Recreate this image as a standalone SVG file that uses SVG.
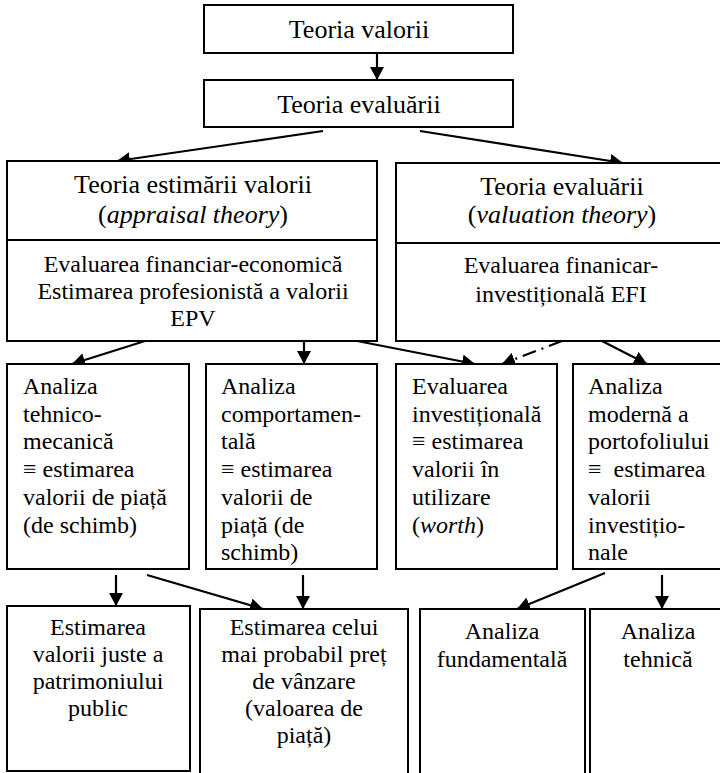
<svg xmlns="http://www.w3.org/2000/svg" width="720" height="773" viewBox="0 0 720 773">
  <defs>
    <marker id="arrow" markerUnits="userSpaceOnUse" markerWidth="14" markerHeight="14" refX="13" refY="7" orient="auto">
      <path d="M0,0 L13,7 L0,14 z" fill="#000"/>
    </marker>
  </defs>
  <style>
    .box { fill: #fff; stroke: #000; stroke-width: 2; }
    .div { stroke: #000; stroke-width: 2; }
    text { font-family: 'Liberation Serif', 'Times New Roman', serif; font-size: 24px; fill: #000; }
    .big { font-size: 26px; }
    .c { text-anchor: middle; }
    .edge { stroke: #000; stroke-width: 2.2; fill: none; marker-end: url(#arrow); }
    .dash { stroke-dasharray: 14 6 2 6; }
  </style>
  <rect width="720" height="773" fill="#fff"/>

  <!-- connectors -->
  <g id="connectors">
    <line class="edge" x1="377" y1="53" x2="377" y2="80"/>
    <line class="edge" x1="323" y1="131" x2="117" y2="161"/>
    <line class="edge" x1="420" y1="131" x2="623" y2="163"/>
    <line class="edge" x1="145" y1="341" x2="72" y2="364"/>
    <line class="edge" x1="304" y1="341" x2="304" y2="364"/>
    <line class="edge" x1="357" y1="341" x2="475" y2="364"/>
    <line class="edge dash" x1="562" y1="341" x2="502" y2="364"/>
    <line class="edge" x1="602" y1="341" x2="647" y2="364"/>
    <line class="edge" x1="116" y1="575" x2="116" y2="606"/>
    <line class="edge" x1="147" y1="575" x2="263" y2="609"/>
    <line class="edge" x1="303" y1="575" x2="303" y2="609"/>
    <line class="edge" x1="605" y1="573" x2="517" y2="609"/>
    <line class="edge" x1="662" y1="575" x2="662" y2="609"/>
  </g>

  <g id="teoria-valorii">
    <rect class="box" x="204" y="5" width="309" height="48"/>
    <text class="big c" x="359" y="38">Teoria valorii</text>
  </g>

  <g id="teoria-evaluarii">
    <rect class="box" x="204" y="80" width="309" height="47"/>
    <text class="big c" x="359" y="113">Teoria evaluării</text>
  </g>

  <g id="appraisal">
    <rect class="box" x="7" y="161" width="370" height="180"/>
    <line class="div" x1="7" y1="240" x2="377" y2="240"/>
    <text class="big c" x="193" y="193">Teoria estimării valorii</text>
    <text class="big c" x="193" y="223">(<tspan font-style="italic">appraisal theory</tspan>)</text>
    <text class="c" x="193" y="272">Evaluarea financiar-economică</text>
    <text class="c" x="193" y="299">Estimarea profesionistă a valorii</text>
    <text class="c" x="193" y="326">EPV</text>
  </g>

  <g id="valuation">
    <rect class="box" x="396" y="163" width="332" height="178"/>
    <line class="div" x1="396" y1="243" x2="728" y2="243"/>
    <text class="big c" x="562" y="195">Teoria evaluării</text>
    <text class="big c" x="562" y="223">(<tspan font-style="italic">valuation theory</tspan>)</text>
    <text class="c" x="561" y="273">Evaluarea finanicar-</text>
    <text class="c" x="561" y="302">investițională EFI</text>
  </g>

  <g id="analiza-tehnico-mecanica">
    <rect class="box" x="7" y="364" width="182" height="205"/>
    <text x="23" y="394">Analiza</text>
    <text x="23" y="421.7">tehnico-</text>
    <text x="23" y="449.4">mecanică</text>
    <text x="23" y="477.1">≡ estimarea</text>
    <text x="23" y="504.8">valorii de piață</text>
    <text x="23" y="532.5">(de schimb)</text>
  </g>

  <g id="analiza-comportamentala">
    <rect class="box" x="206" y="364" width="171" height="205"/>
    <text x="221" y="394">Analiza</text>
    <text x="221" y="421.7">comportamen-</text>
    <text x="221" y="449.4">tală</text>
    <text x="221" y="477.1">≡ estimarea</text>
    <text x="221" y="504.8">valorii de</text>
    <text x="221" y="532.5">piață (de</text>
    <text x="221" y="560.2">schimb)</text>
  </g>

  <g id="evaluarea-investitionala">
    <rect class="box" x="396" y="364" width="161" height="205"/>
    <text x="412" y="394">Evaluarea</text>
    <text x="412" y="421.7">investițională</text>
    <text x="412" y="449.4">≡ estimarea</text>
    <text x="412" y="477.1">valorii în</text>
    <text x="412" y="504.8">utilizare</text>
    <text x="412" y="532.5">(<tspan font-style="italic">worth</tspan>)</text>
  </g>

  <g id="analiza-portofoliului">
    <rect class="box" x="573" y="364" width="155" height="205"/>
    <text x="588" y="394">Analiza</text>
    <text x="588" y="421.7">modernă a</text>
    <text x="588" y="449.4">portofoliului</text>
    <text x="588" y="477.1" xml:space="preserve">≡  estimarea</text>
    <text x="588" y="504.8">valorii</text>
    <text x="588" y="532.5">investițio-</text>
    <text x="588" y="560.2">nale</text>
  </g>

  <g id="valoare-justa">
    <rect class="box" x="7" y="606" width="183" height="165"/>
    <text class="c" x="98" y="635">Estimarea</text>
    <text class="c" x="98" y="662">valorii juste a</text>
    <text class="c" x="98" y="689">patrimoniului</text>
    <text class="c" x="98" y="716">public</text>
  </g>

  <g id="pret-probabil">
    <rect class="box" x="200" y="609" width="208" height="175"/>
    <text class="c" x="304" y="635">Estimarea celui</text>
    <text class="c" x="304" y="662">mai probabil preț</text>
    <text class="c" x="304" y="689">de vânzare</text>
    <text class="c" x="304" y="716">(valoarea de</text>
    <text class="c" x="304" y="743">piață)</text>
  </g>

  <g id="analiza-fundamentala">
    <rect class="box" x="420" y="609" width="165" height="175"/>
    <text class="c" x="502" y="639">Analiza</text>
    <text class="c" x="502" y="667">fundamentală</text>
  </g>

  <g id="analiza-tehnica">
    <rect class="box" x="590" y="609" width="138" height="175"/>
    <text class="c" x="658" y="639">Analiza</text>
    <text class="c" x="658" y="667">tehnică</text>
  </g>
</svg>
